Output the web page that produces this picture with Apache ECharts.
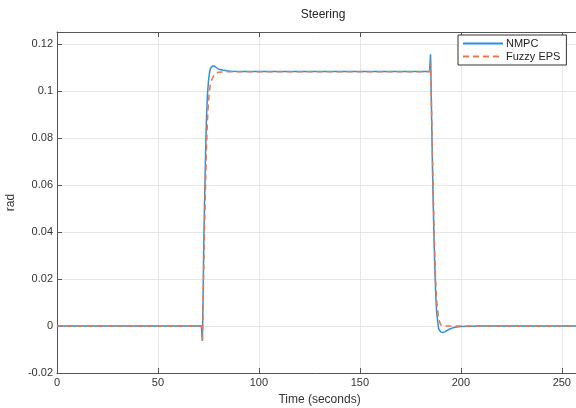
<!DOCTYPE html>
<html>
<head>
<meta charset="utf-8">
<script src="https://cdn.jsdelivr.net/npm/echarts@6/dist/echarts.min.js"></script>
<style>
  html, body { margin: 0; padding: 0; background: #fff; }
  #chart { width: 576px; height: 408px; }
</style>
</head>
<body>
<div id="chart"></div>
<script>
// time samples (s), denser around the two steering transitions
const time = [0, 71.5, 72, 72.3, 72.6, 73, 73.5, 74, 74.5, 75, 75.5, 76, 77, 78, 79, 80, 82, 84, 86, 90, 100, 150,
  184.5, 185, 185.3, 185.6, 186, 186.5, 187, 187.5, 188, 189, 190, 191, 192, 194, 196, 198, 200, 210, 260];

const nmpc = [0, 0, -0.0064, 0.01, 0.03, 0.05, 0.07, 0.088, 0.098, 0.104, 0.1075, 0.1095, 0.1105, 0.1105, 0.1098, 0.1092, 0.1088, 0.1085, 0.1083, 0.1082, 0.1082, 0.1082,
  0.1082, 0.1155, 0.1, 0.085, 0.065, 0.045, 0.028, 0.015, 0.006, -0.0012, -0.0025, -0.0028, -0.0025, -0.0015, -0.0008, -0.0004, -0.0002, 0, 0];

const fuzzy = [0, 0, -0.0064, 0.005, 0.02, 0.038, 0.058, 0.075, 0.087, 0.095, 0.1, 0.103, 0.1055, 0.107, 0.1076, 0.1079, 0.108, 0.1081, 0.1081, 0.1081, 0.1081, 0.1081,
  0.1081, 0.112, 0.1, 0.088, 0.07, 0.05, 0.033, 0.02, 0.011, 0.003, 0.0005, 0, 0, 0, 0, 0, 0, 0, 0];

const xTicks = [0, 50, 100, 150, 200, 250];

const font = 'Liberation Sans, Arial, sans-serif';
const axisCol = '#555';
const gridCol = '#e6e6e6';

const chart = echarts.init(document.getElementById('chart'));

function pairs(vals) {
  return time.map((t, i) => [t, vals[i]]);
}

chart.setOption({
  animation: false,
  title: {
    text: 'Steering',
    left: 318,
    textAlign: 'center',
    top: 4,
    textStyle: { fontFamily: font, fontSize: 12, fontWeight: 'normal', color: '#222' }
  },
  legend: {
    orient: 'vertical',
    left: 458,
    top: 35,
    itemWidth: 40,
    itemHeight: 10,
    itemGap: 2,
    padding: [3, 6, 3, 4],
    backgroundColor: '#fff',
    borderColor: '#333',
    borderWidth: 1,
    itemStyle: { opacity: 0 },
    textStyle: { fontFamily: font, fontSize: 11, color: '#222', padding: [0, 0, 0, -2] },
    data: ['NMPC', 'Fuzzy EPS']
  },
  grid: { left: 57, top: 32, right: -6, bottom: 35, outerBoundsMode: 'none' },
  xAxis: [
    {
      type: 'value',
      min: 0,
      max: 260,
      interval: 50,
      name: 'Time (seconds)',
      nameLocation: 'middle',
      nameGap: 21,
      nameTextStyle: { fontFamily: font, fontSize: 12, color: '#333' },
      axisLine: { onZero: false, lineStyle: { color: axisCol } },
      axisTick: { inside: true, length: 5, lineStyle: { color: axisCol } },
      axisLabel: {
        fontFamily: font, fontSize: 11, color: '#333', margin: 4,
        formatter: v => (xTicks.indexOf(v) >= 0 ? String(v) : '')
      },
      splitLine: { show: true, lineStyle: { color: gridCol } }
    },
    {
      type: 'value',
      position: 'top',
      min: 0,
      max: 260,
      interval: 50,
      axisLine: { show: true, onZero: false, lineStyle: { color: axisCol } },
      axisTick: { show: true, inside: true, length: 5, lineStyle: { color: axisCol } },
      axisLabel: { show: false },
      splitLine: { show: false }
    }
  ],
  yAxis: {
    type: 'value',
    min: -0.02,
    max: 0.125,
    interval: 0.02,
    name: 'rad',
    nameLocation: 'middle',
    nameGap: 32,
    nameTextStyle: { fontFamily: font, fontSize: 12, color: '#333' },
    axisLine: { show: true, onZero: false, lineStyle: { color: axisCol } },
    axisTick: { show: true, inside: true, length: 5, lineStyle: { color: axisCol } },
    axisLabel: {
      fontFamily: font, fontSize: 11, color: '#333', margin: 4,
      formatter: v => (v > 0.121 ? '' : String(+v.toFixed(3)))
    },
    splitLine: { show: true, lineStyle: { color: gridCol } }
  },
  series: [
    {
      name: 'NMPC',
      type: 'line',
      symbol: 'none',
      color: '#2f8fdc',
      lineStyle: { width: 1.5 },
      data: pairs(nmpc)
    },
    {
      name: 'Fuzzy EPS',
      type: 'line',
      symbol: 'none',
      color: '#e8784a',
      lineStyle: { width: 1.5, type: [6, 4] },
      data: pairs(fuzzy)
    }
  ]
});
</script>
</body>
</html>
